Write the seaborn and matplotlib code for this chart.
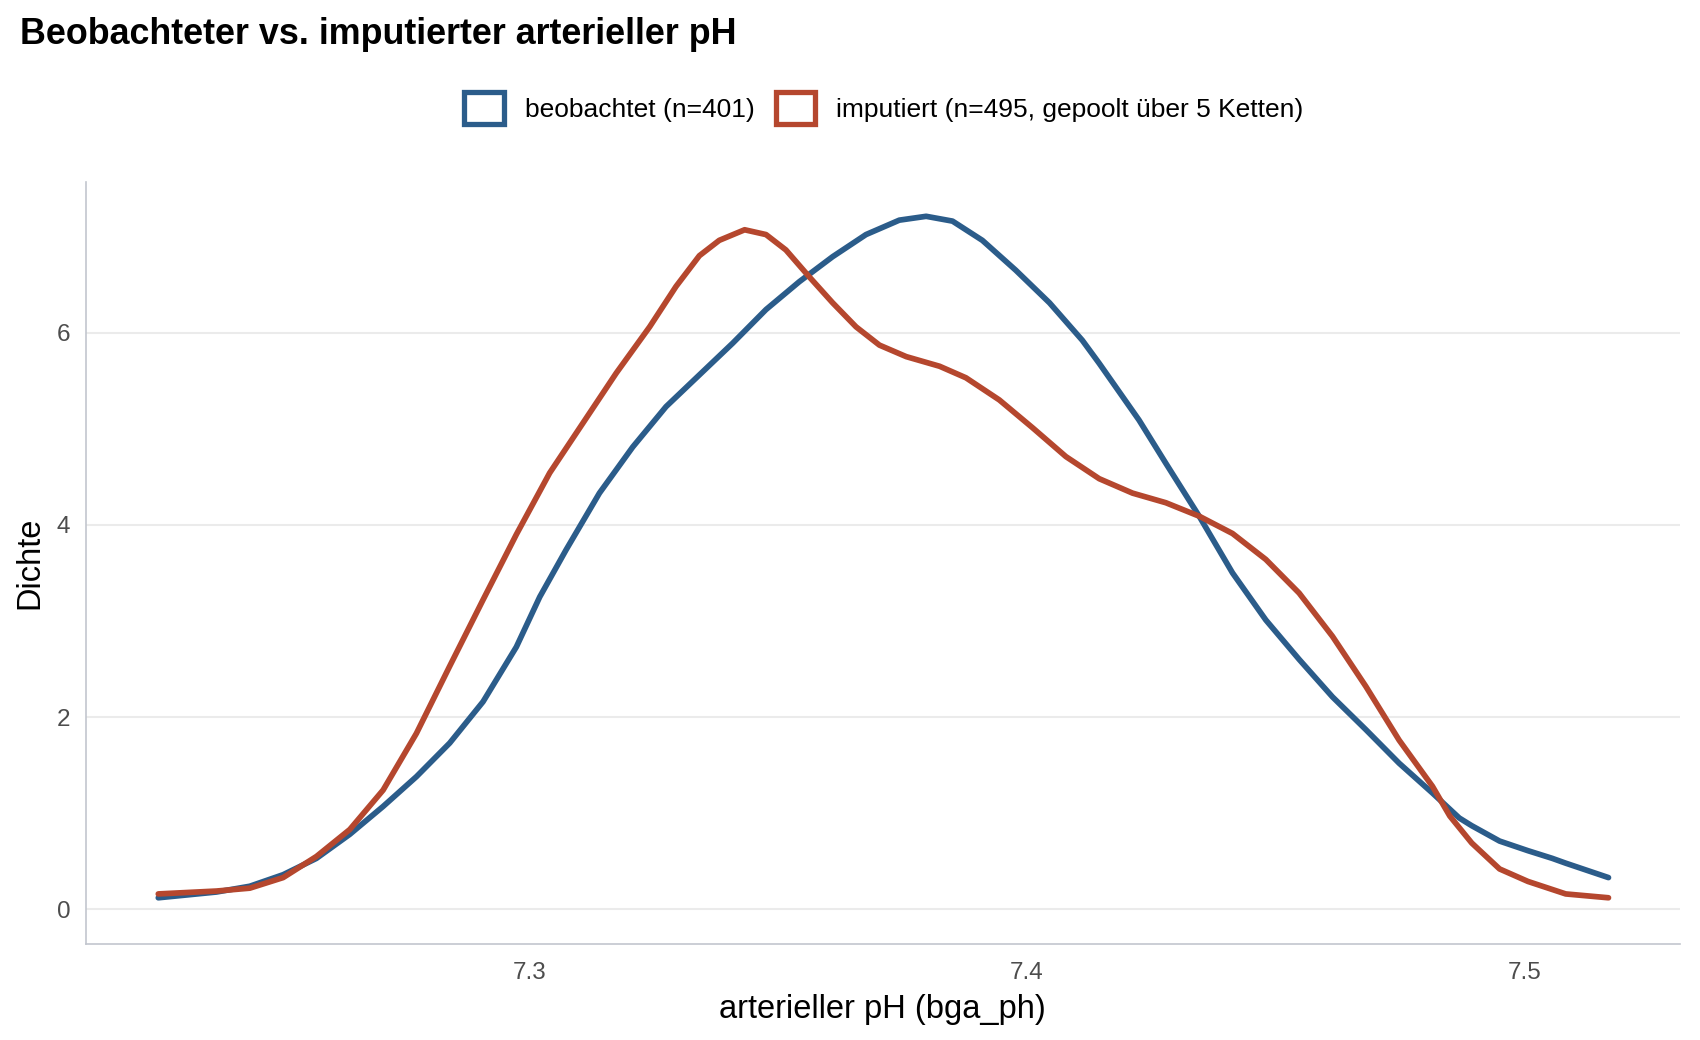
import pandas as pd
import matplotlib
matplotlib.use("Agg")
import matplotlib.pyplot as plt
import seaborn as sns
from matplotlib.patches import Rectangle

# Style
sns.set_style("white")
plt.rcParams.update({'font.family': ['Liberation Sans', 'DejaVu Sans'],
                     'text.color': 'black', 'axes.labelcolor': 'black'})
blue = '#2B5C8A'
red = '#B5472E'

# Density curves (x = pH, y = density)
obs_x = [7.2253, 7.2370, 7.2437, 7.2504, 7.2571, 7.2638, 7.2705, 7.2772, 7.2839,
         7.2906, 7.2973, 7.3020, 7.3073, 7.3140, 7.3207, 7.3274, 7.3341, 7.3408,
         7.3475, 7.3542, 7.3609, 7.3676, 7.3743, 7.3797, 7.3850, 7.3910, 7.3977,
         7.4045, 7.4111, 7.4145, 7.4225, 7.4279, 7.4346, 7.4413, 7.4480, 7.4547,
         7.4614, 7.4681, 7.4748, 7.4815, 7.4869, 7.4894, 7.4950, 7.5007, 7.5056,
         7.5083, 7.5169]
obs_y = [0.12, 0.18, 0.24, 0.36, 0.53, 0.78, 1.07, 1.38, 1.73,
         2.16, 2.73, 3.25, 3.74, 4.33, 4.81, 5.23, 5.56, 5.89,
         6.24, 6.53, 6.79, 7.02, 7.17, 7.21, 7.16, 6.96, 6.65,
         6.31, 5.92, 5.68, 5.09, 4.64, 4.09, 3.50, 3.01, 2.60,
         2.21, 1.87, 1.52, 1.21, 0.95, 0.87, 0.71, 0.61, 0.53,
         0.48, 0.33]

imp_x = [7.2253, 7.2370, 7.2437, 7.2504, 7.2571, 7.2638, 7.2705, 7.2772, 7.2839,
         7.2906, 7.2973, 7.3040, 7.3107, 7.3174, 7.3241, 7.3294, 7.3341, 7.3381,
         7.3432, 7.3475, 7.3515, 7.3562, 7.3609, 7.3656, 7.3703, 7.3757, 7.3824,
         7.3877, 7.3944, 7.4011, 7.4078, 7.4145, 7.4212, 7.4279, 7.4346, 7.4413,
         7.4480, 7.4547, 7.4614, 7.4681, 7.4748, 7.4815, 7.4850, 7.4894, 7.4950,
         7.5007, 7.5083, 7.5169]
imp_y = [0.16, 0.19, 0.22, 0.33, 0.55, 0.83, 1.24, 1.83, 2.53,
         3.22, 3.90, 4.54, 5.06, 5.58, 6.06, 6.48, 6.80, 6.96,
         7.07, 7.02, 6.86, 6.58, 6.31, 6.06, 5.87, 5.75, 5.65,
         5.53, 5.30, 5.01, 4.71, 4.48, 4.33, 4.23, 4.09, 3.91,
         3.64, 3.29, 2.84, 2.32, 1.76, 1.28, 0.97, 0.69, 0.42,
         0.29, 0.16, 0.12]

labels = ['beobachtet (n=401)', 'imputiert (n=495, gepoolt über 5 Ketten)']

df = pd.concat([
    pd.DataFrame({'ph': obs_x, 'dichte': obs_y, 'gruppe': labels[0]}),
    pd.DataFrame({'ph': imp_x, 'dichte': imp_y, 'gruppe': labels[1]}),
])

fig = plt.figure(figsize=(17, 10.4), dpi=100)
ax = fig.add_axes([0.0504, 0.0923, 0.9376, 0.7327])

sns.lineplot(data=df, x='ph', y='dichte', hue='gruppe', sort=False,
             palette={labels[0]: blue, labels[1]: red}, linewidth=4.1,
             legend=False, ax=ax)
for line in ax.lines:
    line.set_solid_joinstyle('round')

ax.set_xlim(7.2107, 7.5312)
ax.set_ylim(-0.361, 7.567)
ax.set_xticks([7.3, 7.4, 7.5])
ax.set_xticklabels(['7.3', '7.4', '7.5'])
ax.set_yticks([0, 2, 4, 6])
ax.tick_params(axis='both', length=0, labelsize=17.5, labelcolor='#4D4D4D')
ax.tick_params(axis='x', pad=13)
ax.tick_params(axis='y', pad=11)
ax.yaxis.grid(True, color='#EBEBEB', linewidth=1.5)
ax.xaxis.grid(False)
ax.set_axisbelow(True)
for side in ['top', 'right']:
    ax.spines[side].set_visible(False)
for side in ['left', 'bottom']:
    ax.spines[side].set_color('#C2C6CE')
    ax.spines[side].set_linewidth(1.2)

ax.set_xlabel('arterieller pH (bga_ph)', fontsize=23.5, labelpad=7)
ax.set_ylabel('Dichte', fontsize=23.5, labelpad=8)

fig.text(0.0115, 0.958, 'Beobachteter vs. imputierter arterieller pH',
         fontsize=25.8, fontweight='bold', ha='left', va='baseline')

# Legend with outlined square keys
handles = [Rectangle((0, 0), 1, 1, facecolor='white', edgecolor=c, linewidth=3.8,
                     joinstyle='round') for c in [blue, red]]
fig.legend(handles, labels, loc='center', bbox_to_anchor=(0.52, 0.896), ncol=2,
           frameon=False, fontsize=19, handlelength=1.5, handleheight=1.5,
           handletextpad=0.8, columnspacing=0.8)

fig.savefig('out.png', dpi=100)
